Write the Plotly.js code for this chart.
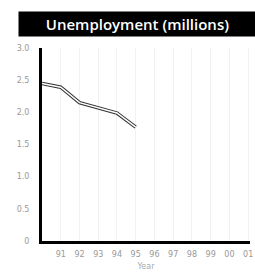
<!DOCTYPE html>
<html>
<head>
<meta charset="utf-8">
<script src="https://cdn.plot.ly/plotly-3.0.1.min.js"></script>
<style>html,body{margin:0;padding:0;background:#fff;}#chart{width:255px;height:279px;}</style>
</head>
<body>
<div id="chart"></div>
<script>
var years = [1990, 1991, 1992, 1993, 1994, 1995];
var unemployment = [2.45, 2.39, 2.15, 2.07, 1.99, 1.77];
var tickYears = [1991, 1992, 1993, 1994, 1995, 1996, 1997, 1998, 1999, 2000, 2001];
var tickLabels = ["91", "92", "93", "94", "95", "96", "97", "98", "99", "00", "01"];
var yTicks = [0, 0.5, 1.0, 1.5, 2.0, 2.5, 3.0];
var yLabels = ["0", "0.5", "1.0", "1.5", "2.0", "2.5", "3.0"];

var outer = {x: years, y: unemployment, mode: 'lines', line: {color: '#333', width: 3.5}, hoverinfo: 'skip'};
var inner = {x: years, y: unemployment, mode: 'lines', line: {color: '#fff', width: 1.5}, hoverinfo: 'skip'};

var layout = {
  width: 255, height: 279,
  margin: {l: 42, r: 5, t: 48, b: 38},
  paper_bgcolor: '#fff', plot_bgcolor: '#fff',
  showlegend: false,
  font: {family: 'DejaVu Sans, sans-serif', size: 8, color: '#999'},
  xaxis: {
    range: [1990, 2001.1], tickvals: tickYears, ticktext: tickLabels,
    showline: true, linecolor: '#000', linewidth: 3,
    showgrid: true, gridcolor: '#f2f2f2', gridwidth: 1,
    zeroline: false, ticks: '', tickfont: {size: 8, color: '#999'},
    ticklabeloverflow: 'allow', ticklabelstandoff: 3,
    title: {text: 'Year', font: {size: 8, color: '#aaa'}, standoff: 6}
  },
  yaxis: {
    range: [0, 3.0], tickvals: yTicks, ticktext: yLabels,
    showline: true, linecolor: '#000', linewidth: 3,
    showgrid: false, zeroline: false, ticks: '',
    ticklabelstandoff: 8,
    tickfont: {size: 8, color: '#999'}
  },
  annotations: [{
    xref: 'paper', yref: 'paper', x: 0.5, y: 1, xanchor: 'center', yanchor: 'bottom',
    xshift: -9, yshift: 11,
    text: 'Unemployment (millions)', showarrow: false,
    font: {family: 'Open Sans, sans-serif', size: 15, color: '#fff', weight: 600},
    bgcolor: '#000', width: 235, height: 22
  }]
};

Plotly.newPlot('chart', [outer, inner], layout, {displayModeBar: false, staticPlot: true});
</script>
</body>
</html>
